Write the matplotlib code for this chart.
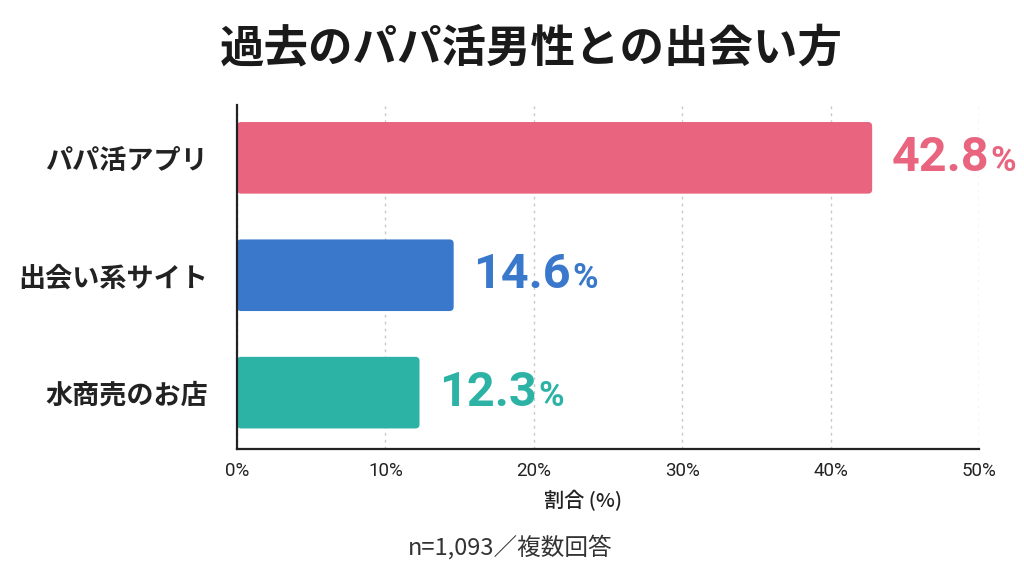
import matplotlib
matplotlib.use("Agg")
import matplotlib.pyplot as plt
from matplotlib import font_manager
from matplotlib.patches import FancyBboxPatch

categories = ["パパ活アプリ", "出会い系サイト", "水商売のお店"]
values = [42.8, 14.6, 12.3]
colors = ["#E8647F", "#3A78CC", "#2DB3A6"]
xticks = [0, 10, 20, 30, 40, 50]
xtick_labels = ["0%", "10%", "20%", "30%", "40%", "50%"]
title = "過去のパパ活男性との出会い方"
xlabel = "割合 (%)"
footnote = "n=1,093／複数回答"

avail = {f.name for f in font_manager.fontManager.ttflist}
JP = ["Noto Sans CJK JP", "DejaVu Sans"]
NUM = "Liberation Sans Narrow" if "Liberation Sans Narrow" in avail else "Roboto"
plt.rcParams["font.family"] = JP

fig = plt.figure(figsize=(10.24, 5.76), dpi=100)
fig.patch.set_facecolor("white")
ax = fig.add_axes([237 / 1024, 1 - 449 / 576, (979 - 237) / 1024, (449 - 105) / 576])

ypos = list(range(len(categories)))
bars = ax.barh(ypos, values, height=0.61, color=colors, zorder=3)
ax.set_ylim(2.48, -0.45)
ax.set_xlim(0, 50)

# rounded corners: redraw each bar with the same geometry
for b in bars:
    b.set_visible(False)
    x0, y0 = b.get_x(), b.get_y()
    w, h = b.get_width(), b.get_height()
    fp = FancyBboxPatch((x0, y0), w, h,
                        boxstyle="round,pad=0,rounding_size=0.28",
                        mutation_aspect=0.126, facecolor=b.get_facecolor(),
                        edgecolor="none", zorder=3)
    ax.add_patch(fp)

ax.set_yticks(ypos)
ax.set_yticklabels(categories, fontsize=19.5, color="#222222", fontweight="bold")
ax.set_xticks(xticks)
ax.set_xticklabels(xtick_labels, fontsize=13.5, color="#222222", family=[NUM, "DejaVu Sans"])
ax.tick_params(axis="both", length=0)
ax.tick_params(axis="y", pad=21)
ax.tick_params(axis="x", pad=9)

for s in ["top", "right"]:
    ax.spines[s].set_visible(False)
for s in ["left", "bottom"]:
    ax.spines[s].set_color("#222222")
    ax.spines[s].set_linewidth(1.6)
    ax.spines[s].set_zorder(4)

ax.grid(axis="x", color="#C8C8C8", linestyle=(0, (2, 3)), linewidth=1, zorder=0)
ax.grid(axis="y", visible=False)

for y, v, c in zip(ypos, values, colors):
    t = ax.annotate(f"{v:.1f}", xy=(v, y), xytext=(14, 0), textcoords="offset points",
                    va="center", ha="left", fontsize=35, fontweight="bold", color=c,
                    family=[NUM, "DejaVu Sans"])
    ax.annotate("%", xy=(1, 0), xycoords=t, xytext=(1, 2), textcoords="offset points",
                va="bottom", ha="left", fontsize=25, fontweight="bold", color=c,
                family=[NUM, "DejaVu Sans"])

ax.set_xlabel(xlabel, fontsize=14.5, color="#222222", fontweight="medium")
ax.xaxis.set_label_coords(0.466, -0.118)

fig.text(0.519, 1 - 48 / 576, title, ha="center", va="center", fontsize=32,
         fontweight="bold", color="#1a1a1a")
fig.text(0.498, 1 - 547 / 576, footnote, ha="center", va="center", fontsize=17,
         color="#333333")

fig.savefig("out.png", dpi=100, facecolor="white")
